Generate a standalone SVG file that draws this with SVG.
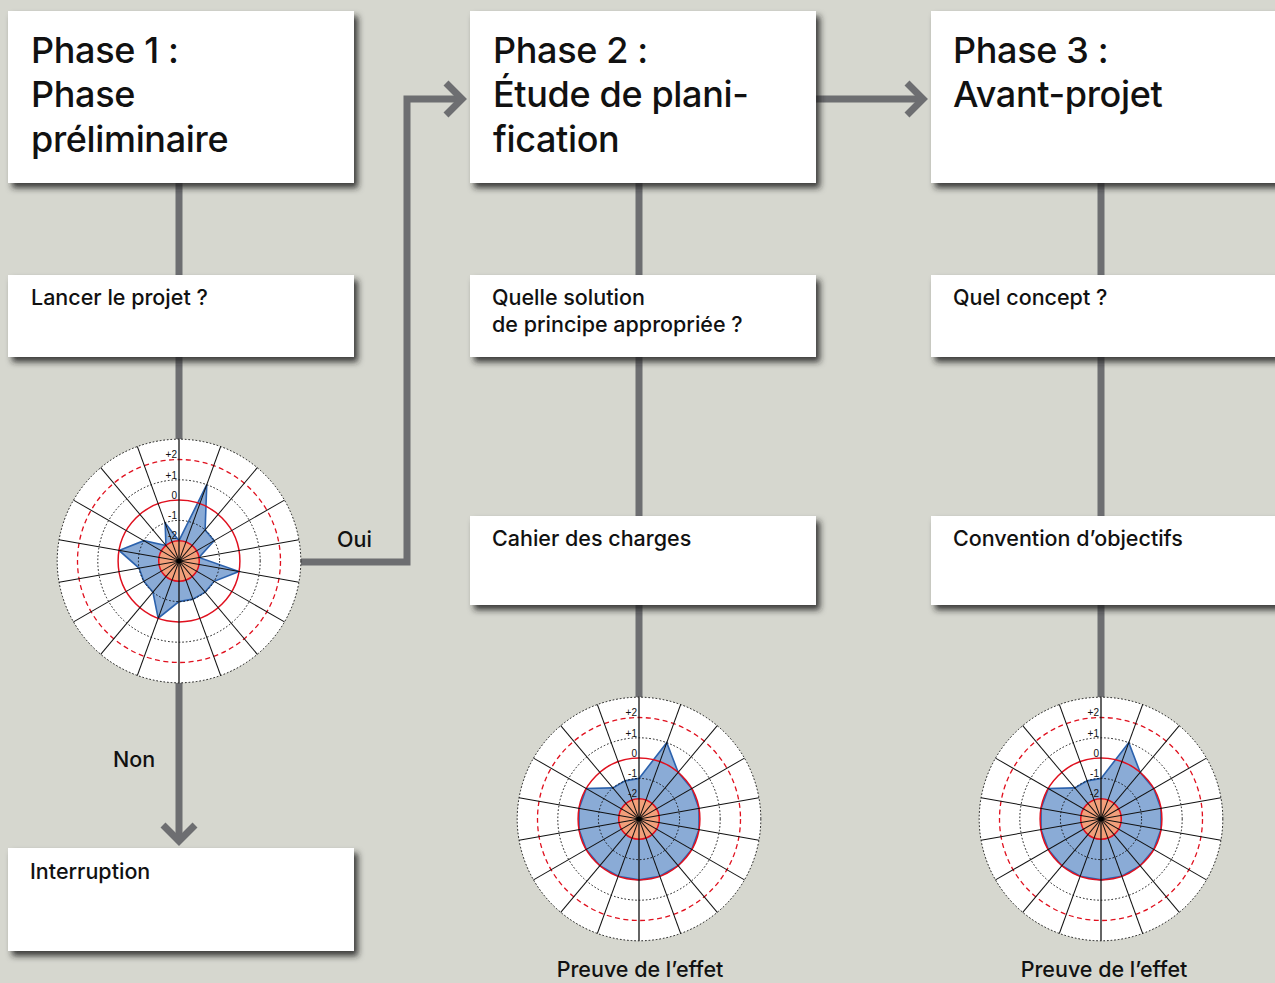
<svg xmlns="http://www.w3.org/2000/svg" xmlns:xlink="http://www.w3.org/1999/xlink" width="1275" height="983" viewBox="0 0 1275 983">
<style>
.bg{fill:#d6d7cf}
.box{fill:#ffffff;filter:url(#shadow)}
.conn{fill:none;stroke:#6d6e71;stroke-width:7;stroke-linejoin:miter}
.title{font-family:Inter,"Liberation Sans",sans-serif;font-weight:500;font-size:36px;letter-spacing:-0.35px;fill:#111}
.lbl{font-family:Inter,"Liberation Sans",sans-serif;font-weight:500;font-size:21.5px;fill:#111}
.scale{font-family:"Liberation Sans",Arial,sans-serif;font-size:10px;fill:#111;text-anchor:end}
.dotk{fill:none;stroke:#111;stroke-width:1;stroke-dasharray:1.6 2}
.redS{fill:none;stroke:#e0101e;stroke-width:1.5}
.redD{fill:none;stroke:#e0101e;stroke-width:1.3;stroke-dasharray:5 3.5}
.spoke{stroke:#111;stroke-width:1}
.poly{fill:#8aabd6;stroke:#2c62ad;stroke-width:1.6;stroke-linejoin:miter}
</style>
<defs>
<filter id="shadow" x="-10%" y="-10%" width="130%" height="140%">
<feDropShadow dx="4" dy="5" stdDeviation="3" flood-color="#222" flood-opacity="0.85"/>
</filter>
<marker id="chev" markerUnits="userSpaceOnUse" markerWidth="40" markerHeight="40" orient="auto" overflow="visible" refX="0" refY="0">
<polyline points="-16,-16 0,0 -16,16" fill="none" stroke="#6d6e71" stroke-width="7" stroke-linejoin="miter"/>
</marker>
<circle id="radarBase" r="121.8" fill="#ffffff"/>
<g id="radarGrid">
<circle class="dotk" r="40.6"/>
<circle class="redS" r="60.9"/>
<circle class="dotk" r="81.2"/>
<circle class="redD" r="101.5"/>
<circle r="20.3" fill="#f2a07b" stroke="#e0101e" stroke-width="1.5"/>
<g class="spoke">
<line x1="0" y1="-121.8" x2="0" y2="121.8" stroke-width="1.3"/>
<line x1="0" y1="-121.8" x2="0" y2="121.8" transform="rotate(20)"/>
<line x1="0" y1="-121.8" x2="0" y2="121.8" transform="rotate(40)"/>
<line x1="0" y1="-121.8" x2="0" y2="121.8" transform="rotate(60)"/>
<line x1="0" y1="-121.8" x2="0" y2="121.8" transform="rotate(80)"/>
<line x1="0" y1="-121.8" x2="0" y2="121.8" transform="rotate(100)"/>
<line x1="0" y1="-121.8" x2="0" y2="121.8" transform="rotate(120)"/>
<line x1="0" y1="-121.8" x2="0" y2="121.8" transform="rotate(140)"/>
<line x1="0" y1="-121.8" x2="0" y2="121.8" transform="rotate(160)"/>
</g>
<circle class="dotk" r="121.8"/>
<circle r="2.5" fill="#000"/>
<text class="scale" x="-2" y="-103">+2</text>
<text class="scale" x="-2" y="-82.5">+1</text>
<text class="scale" x="-2" y="-62.5">0</text>
<text class="scale" x="-2" y="-42">-1</text>
<text class="scale" x="-2" y="-22">-2</text>
</g>
</defs>
<rect class="bg" x="0" y="0" width="1275" height="983"/>
<g id="connectors">
<path class="conn" d="M179,183 V275"/>
<path class="conn" d="M179,357 V439"/>
<path class="conn" d="M179,683 V841" marker-end="url(#chev)"/>
<path class="conn" d="M301,562 H407 V99 H462" marker-end="url(#chev)"/>
<path class="conn" d="M816,99 H923" marker-end="url(#chev)"/>
<path class="conn" d="M639,183 V275"/>
<path class="conn" d="M639,357 V516"/>
<path class="conn" d="M639,605 V697"/>
<path class="conn" d="M1101,183 V275"/>
<path class="conn" d="M1101,357 V516"/>
<path class="conn" d="M1101,605 V697"/>
</g>
<g id="labels">
<text class="lbl" x="337" y="547">Oui</text>
<text class="lbl" x="113" y="767">Non</text>
</g>
<g id="phase1">
<rect class="box" x="8" y="11" width="346" height="172"/>
<text class="title" x="31" y="63">Phase 1 :</text>
<text class="title" x="31" y="107">Phase</text>
<text class="title" x="31" y="152">préliminaire</text>
</g>
<g id="phase2">
<rect class="box" x="470" y="11" width="346" height="172"/>
<text class="title" x="493" y="63">Phase 2 :</text>
<text class="title" x="493" y="107">Étude de plani-</text>
<text class="title" x="493" y="152">fication</text>
</g>
<g id="phase3">
<rect class="box" x="931" y="11" width="360" height="172"/>
<text class="title" x="953" y="63">Phase 3 :</text>
<text class="title" x="953" y="107">Avant-projet</text>
</g>
<g id="q1">
<rect class="box" x="8" y="275" width="346" height="82"/>
<text class="lbl" x="31" y="305">Lancer le projet ?</text>
</g>
<g id="q2">
<rect class="box" x="470" y="275" width="346" height="82"/>
<text class="lbl" x="492" y="305">Quelle solution</text>
<text class="lbl" x="492" y="332">de principe appropriée ?</text>
</g>
<g id="q3">
<rect class="box" x="931" y="275" width="360" height="82"/>
<text class="lbl" x="953" y="305">Quel concept ?</text>
</g>
<g id="cahier">
<rect class="box" x="470" y="516" width="346" height="89"/>
<text class="lbl" x="492" y="546">Cahier des charges</text>
</g>
<g id="convention">
<rect class="box" x="931" y="516" width="360" height="89"/>
<text class="lbl" x="953" y="546">Convention d’objectifs</text>
</g>
<g id="interruption">
<rect class="box" x="8" y="848" width="346" height="103"/>
<text class="lbl" x="30" y="879">Interruption</text>
</g>
<g id="radar1" transform="translate(179,561)">
<use xlink:href="#radarBase"/>
<polygon class="poly" points="0,-20.3 27.77,-76.3 26.1,-31.1 35.16,-20.3 19.99,-3.52 59.97,10.57 35.16,20.3 26.1,31.1 13.89,38.15 0,40.6 -20.83,57.23 -26.1,31.1 -35.16,20.3 -39.98,7.05 -59.97,-10.57 -35.16,-20.3 -13.05,-15.55 -13.89,-38.15"/>
<use xlink:href="#radarGrid"/>
</g>
<g id="radar2" transform="translate(639,819)">
<use xlink:href="#radarBase"/>
<polygon class="poly" points="0,-40.6 27.77,-76.3 39.15,-46.65 52.74,-30.45 59.97,-10.57 59.97,10.57 52.74,30.45 39.15,46.65 20.83,57.23 0,60.9 -20.83,57.23 -39.15,46.65 -52.74,30.45 -59.97,10.57 -59.97,-10.57 -52.74,-30.45 -26.1,-31.1 -13.89,-38.15"/>
<use xlink:href="#radarGrid"/>
<text class="lbl" x="1" y="158" text-anchor="middle">Preuve de l’effet</text>
</g>
<g id="radar3" transform="translate(1101,819)">
<use xlink:href="#radarBase"/>
<polygon class="poly" points="0,-40.6 27.77,-76.3 39.15,-46.65 52.74,-30.45 59.97,-10.57 59.97,10.57 52.74,30.45 39.15,46.65 20.83,57.23 0,60.9 -20.83,57.23 -39.15,46.65 -52.74,30.45 -59.97,10.57 -59.97,-10.57 -52.74,-30.45 -26.1,-31.1 -13.89,-38.15"/>
<use xlink:href="#radarGrid"/>
<text class="lbl" x="3" y="158" text-anchor="middle">Preuve de l’effet</text>
</g>
</svg>
